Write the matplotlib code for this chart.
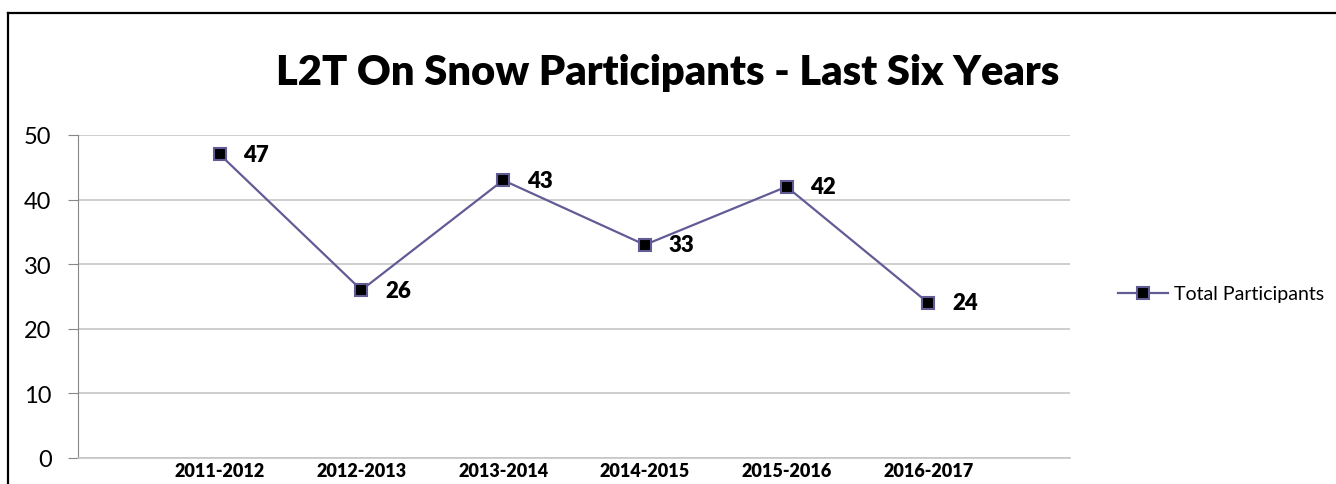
import numpy as np
import matplotlib
matplotlib.use("Agg")
import matplotlib.pyplot as plt
from matplotlib.lines import Line2D

# Daten
seasons = ["2011-2012", "2012-2013", "2013-2014", "2014-2015", "2015-2016", "2016-2017"]
participants = [47, 26, 43, 33, 42, 24]
yticks = [0, 10, 20, 30, 40, 50]

title = "L2T On Snow Participants - Last Six Years"
series_label = "Total Participants"

plt.rcParams['font.family'] = ['Lato', 'DejaVu Sans']

W, H = 1336, 485
fig = plt.figure(figsize=(W / 100, H / 100), dpi=100)
ax = fig.add_axes([78 / W, 1 - 459 / H, (1070 - 78) / W, (459 - 136) / H])

line_col = "#625C96"
grid_col = "#C6C6C6"
axis_col = "#878787"

x = np.arange(len(seasons))
ln, = ax.plot(x, participants, color=line_col, linewidth=1.6, marker="s",
              markersize=9, markerfacecolor="black", markeredgecolor=line_col,
              markeredgewidth=1.5, label=series_label, zorder=3)

for xi, v in zip(x, participants):
    ax.annotate(str(v), (xi, v), xytext=(17, 0), textcoords="offset points",
                ha="left", va="center", fontsize=16, fontweight="heavy")

ax.set_xlim(-1, 6)
ax.set_ylim(0, 50)
ax.set_yticks(yticks)
ax.set_xticks(x)
ax.set_xticklabels(seasons, fontsize=13, fontweight="heavy")
ax.tick_params(axis="x", length=0, pad=3)
ax.tick_params(axis="y", length=7, color=axis_col, labelsize=17, pad=12)
ax.grid(axis="y", color=grid_col, linewidth=1.2)
ax.set_axisbelow(True)
for s in ["top", "right"]:
    ax.spines[s].set_visible(False)
ax.spines["left"].set_color(axis_col)
ax.spines["bottom"].set_color(grid_col)
ax.spines["bottom"].set_linewidth(1.2)

fig.text(0.5, 1 - 73 / H, title, ha="center", va="center",
         fontsize=30, fontweight="heavy")

fig.legend(handles=[ln], loc="center left", bbox_to_anchor=(1100 / W, 1 - 295 / H),
           frameon=False, fontsize=14, handlelength=2.6, handletextpad=0.3)

# Rahmen (nur links und oben sichtbar)
fig.add_artist(Line2D([7.5 / W, 7.5 / W], [0, 1 - 14 / H], color="black", linewidth=1.6,
                      transform=fig.transFigure))
fig.add_artist(Line2D([7.5 / W, 1], [1 - 14 / H, 1 - 14 / H], color="black", linewidth=1.6,
                      transform=fig.transFigure))

fig.savefig("out.png", dpi=100)
